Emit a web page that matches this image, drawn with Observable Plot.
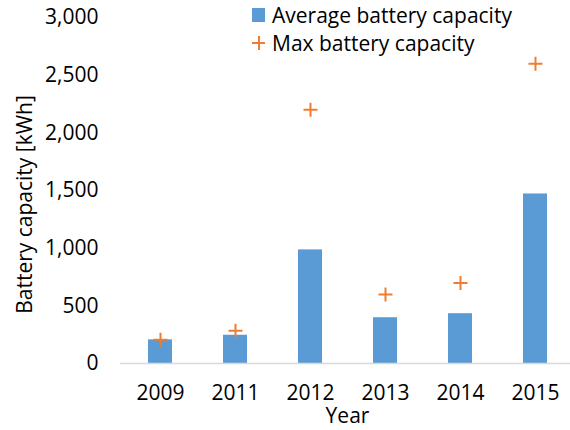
<!DOCTYPE html>
<html>
<head>
<meta charset="utf-8">
<script src="https://cdn.jsdelivr.net/npm/d3@7"></script>
<script src="https://cdn.jsdelivr.net/npm/@observablehq/plot@0.6"></script>
<style>
  html, body { margin: 0; padding: 0; background: #fff; }
  #wrap { position: relative; width: 570px; height: 430px; font-family: "Open Sans", sans-serif; }
  #legend { position: absolute; left: 252px; top: 1px; font-size: 21px; color: #000; line-height: 28px; }
  .item { display: flex; align-items: center; white-space: nowrap; }
  .sw { width: 13px; height: 14px; background: #5B9BD5; margin-right: 7px; }
  .plus { width: 13px; height: 14px; margin-right: 7px; position: relative; }
  .plus::before { content: ""; position: absolute; left: 0; right: 0; top: 6px; height: 2px; background: #ED7D31; }
  .plus::after { content: ""; position: absolute; top: 0; bottom: 0; left: 5.5px; width: 2px; background: #ED7D31; }
</style>
</head>
<body>
<div id="wrap">
  <div id="chart"></div>
  <div id="legend">
    <div class="item"><span class="sw"></span>Average battery capacity</div>
    <div class="item"><span class="plus"></span>Max battery capacity</div>
  </div>
</div>
<script>
const years = ["2009", "2011", "2012", "2013", "2014", "2015"];
const averageCapacity = [205, 245, 985, 397, 432, 1470];
const maxCapacity = [205, 283, 2200, 598, 697, 2600];
const yTicks = [0, 500, 1000, 1500, 2000, 2500, 3000];

const data = years.map((year, i) => ({year, avg: averageCapacity[i], max: maxCapacity[i]}));

const plusSymbol = {
  draw(context, size) {
    const r = Math.sqrt(size / Math.PI);
    context.moveTo(-r, 0); context.lineTo(r, 0);
    context.moveTo(0, -r); context.lineTo(0, r);
  }
};

const chart = Plot.plot({
  width: 570,
  height: 430,
  marginLeft: 120,
  marginRight: -4,
  marginTop: 17,
  marginBottom: 67,
  style: { fontFamily: "Open Sans, sans-serif", fontSize: "21px", color: "#000", background: "#fff", overflow: "visible" },
  x: { domain: years, paddingInner: 0.68, paddingOuter: 0.34, label: null },
  y: { domain: [0, 3000], label: null },
  marks: [
    Plot.barY(data, { x: "year", y: "avg", fill: "#5B9BD5" }),
    Plot.ruleY([0], { stroke: "#D9D9D9", strokeWidth: 1.5 }),
    Plot.dot(data, { x: "year", y: "max", symbol: plusSymbol, r: 7, stroke: "#ED7D31", strokeWidth: 2, fill: "none" }),
    Plot.axisY(yTicks, { tickSize: 0, tickPadding: 22, tickFormat: d3.format(","), label: null, fontSize: 21 }),
    Plot.axisX({ tickSize: 0, tickPadding: 22, label: null, fontSize: 21 }),
    Plot.text(["Year"], { frameAnchor: "bottom", dy: 59, fontSize: 21 }),
    Plot.text(["Battery capacity [kWh]"], { frameAnchor: "left", textAnchor: "middle", dx: -95, dy: 14, rotate: -90, fontSize: 21 })
  ]
});
document.getElementById("chart").appendChild(chart);
</script>
</body>
</html>
